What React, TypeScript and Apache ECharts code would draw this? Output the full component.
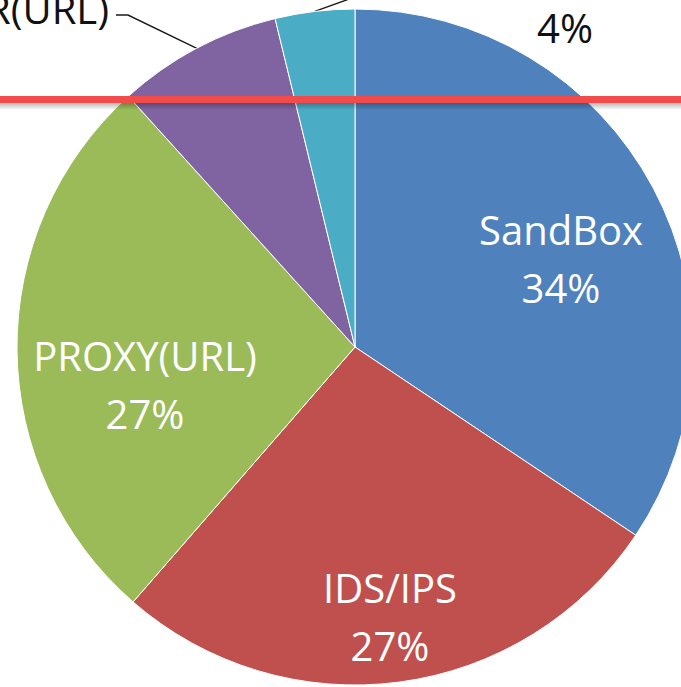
import React, { useEffect, useRef } from "react";
import * as echarts from "echarts";

// Data
const categories = ["SandBox", "IDS/IPS", "PROXY(URL)", "WEB FILTER(URL)", "Others"];
const values = [34.4, 27.0, 26.9, 7.9, 3.8];
const colors = ["#4f81bd", "#c0504d", "#9bbb59", "#8064a2", "#4bacc6"];

// Layout (kept separate from the data)
const CX = 355;
const CY = 347;
const R = 338;
const FONT = "'Open Sans', 'Noto Sans', sans-serif";
const labelSpots = [
  { x: 561, y: 258, align: "center" },
  { x: 390, y: 616, align: "center" },
  { x: 145, y: 384, align: "center" },
  { x: 109, y: -21, align: "right" },
  { x: 565, y: -2, align: "center" },
];

function midAnchor(index: number) {
  const total = values.reduce((a, b) => a + b, 0);
  let before = 0;
  for (let i = 0; i < index; i++) before += values[i];
  const frac = (before + values[index] / 2) / total;
  const th = frac * Math.PI * 2;
  return [CX + R * Math.sin(th), CY - R * Math.cos(th)];
}

export default function App() {
  const ref = useRef<HTMLDivElement>(null);
  useEffect(() => {
    if (!ref.current) return;
    const chart = echarts.init(ref.current, undefined, { renderer: "svg" });
    const data = categories.map((name, i) => {
      const inside = i < 3;
      return {
        name,
        value: values[i],
        itemStyle: { color: colors[i] },
        label: {
          show: true,
          position: inside ? "inside" : "outside",
          color: inside ? "#ffffff" : "#111111",
          fontSize: 40,
          lineHeight: 58,
          fontFamily: FONT,
          align: labelSpots[i].align,
        },
        labelLine: {
          show: !inside,
          lineStyle: { color: "#1a1a1a", width: 1.4 },
        },
      };
    });
    chart.setOption({
      animation: false,
      backgroundColor: "#ffffff",
      series: [
        {
          type: "pie",
          center: [CX, CY],
          radius: R,
          startAngle: 90,
          clockwise: true,
          avoidLabelOverlap: false,
          silent: true,
          itemStyle: { borderColor: "#ffffff", borderWidth: 1 },
          emphasis: { disabled: true },
          label: {
            formatter: (p: any) => {
              const pct = Math.round(p.percent);
              return p.dataIndex === 3 ? `${pct}%\n${p.name}` : `${p.name}\n${pct}%`;
            },
          },
          labelLayout: (p: any) => {
            const i = p.dataIndex;
            const spot = labelSpots[i];
            const out: any = {
              x: spot.x,
              y: spot.y,
              align: spot.align,
              verticalAlign: "middle",
            };
            if (i === 3) {
              out.labelLinePoints = [midAnchor(3), [128, 15], [116, 15]];
            } else if (i === 4) {
              out.labelLinePoints = [midAnchor(4), [352, -2], [480, -2]];
            }
            return out;
          },
          data,
        },
      ],
      graphic: [
        {
          type: "rect",
          z: 100,
          shape: { x: 0, y: 103, width: 681, height: 7 },
          style: {
            fill: new echarts.graphic.LinearGradient(0, 0, 0, 1, [
              { offset: 0, color: "rgba(0,0,0,0.28)" },
              { offset: 1, color: "rgba(0,0,0,0)" },
            ]),
          },
        },
        {
          type: "rect",
          z: 101,
          shape: { x: 0, y: 96, width: 681, height: 7 },
          style: { fill: "#f24b4b" },
        },
      ],
    });
    return () => chart.dispose();
  }, []);
  return (
    <div
      ref={ref}
      style={{ position: "absolute", left: 0, top: 0, width: 681, height: 687 }}
    />
  );
}
